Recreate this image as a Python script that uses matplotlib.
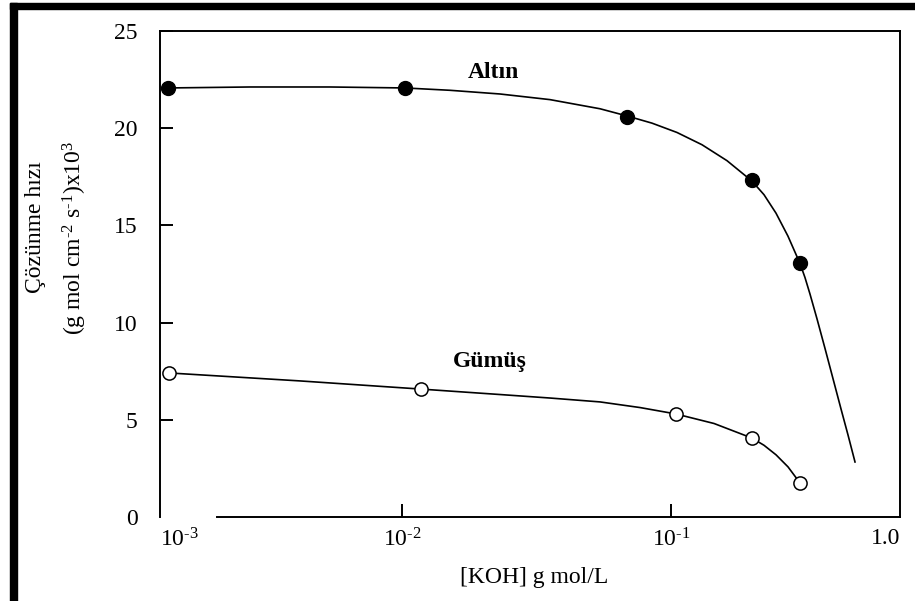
import matplotlib
matplotlib.use('Agg')
import matplotlib.pyplot as plt
from matplotlib.patches import Rectangle
from matplotlib.ticker import NullLocator

plt.rcParams['font.family'] = ['Liberation Serif', 'DejaVu Serif']
plt.rcParams['mathtext.fontset'] = 'custom'
plt.rcParams['mathtext.rm'] = 'Liberation Serif'

# measured points
altin_x = [0.00135, 0.0103, 0.0686, 0.200, 0.302]
altin_y = [22.07, 22.07, 20.58, 17.34, 13.07]
gumus_x = [0.00136, 0.0118, 0.104, 0.200, 0.302]
gumus_y = [7.41, 6.58, 5.30, 4.06, 1.75]

# fitted curves
altin_curve_x = [0.001349, 0.002721, 0.005398, 0.01026, 0.01508, 0.02313, 0.03549,
                 0.05446, 0.06863, 0.0850, 0.10527, 0.13036, 0.16148, 0.2000,
                 0.22167, 0.24566, 0.2721, 0.3017, 0.3148, 0.3286, 0.3490,
                 0.3737, 0.4001, 0.4285, 0.4550, 0.4831]
altin_curve_y = [22.07, 22.12, 22.12, 22.07, 21.95, 21.76, 21.47,
                 21.00, 20.63, 20.26, 19.78, 19.15, 18.33, 17.28,
                 16.58, 15.63, 14.45, 13.04, 12.32, 11.47, 10.19,
                 8.67, 7.12, 5.56, 4.22, 2.83]
gumus_curve_x = [0.001361, 0.004177, 0.011765, 0.02313, 0.03549, 0.05446, 0.07671,
                 0.10438, 0.14454, 0.2000, 0.22167, 0.24566, 0.2722, 0.3017]
gumus_curve_y = [7.41, 7.00, 6.58, 6.30, 6.12, 5.92, 5.63,
                 5.30, 4.81, 4.06, 3.69, 3.20, 2.58, 1.75]

x_lo, x_hi = 10 ** -2.8996, 10 ** -0.1487
x_ticks = [x_lo, 0.01, 0.1, x_hi]
x_ticklabels = [r'$\mathregular{10^{\text{-}3}}$', r'$\mathregular{10^{\text{-}2}}$',
                r'$\mathregular{10^{\text{-}1}}$', '1.0']
y_ticks = [0, 5, 10, 15, 20, 25]

fig = plt.figure(figsize=(9.15, 6.01), dpi=100)
ax = fig.add_axes([160 / 915, 1 - 517 / 601, 740 / 915, 486 / 601])

ax.plot(altin_curve_x, altin_curve_y, color='black', lw=1.2, zorder=2)
ax.plot(gumus_curve_x, gumus_curve_y, color='black', lw=1.2, zorder=2)
ax.plot(altin_x, altin_y, 'o', color='black', ms=10, zorder=3)
ax.plot(gumus_x, gumus_y, 'o', mfc='white', mec='black', mew=1.1, ms=9.5, zorder=3)

ax.set_xscale('log')
ax.set_xlim(x_lo, x_hi)
ax.set_ylim(0, 25)
ax.xaxis.set_minor_locator(NullLocator())
ax.set_xticks(x_ticks, x_ticklabels)
ax.set_yticks(y_ticks)

ax.tick_params(axis='both', direction='in', width=1.4, labelsize=17)
ax.tick_params(axis='y', length=9, pad=16)
ax.tick_params(axis='x', length=9.5, pad=8)

xt = ax.xaxis.get_major_ticks()
xt[0].tick1line.set_visible(False)
xt[-1].tick1line.set_visible(False)
labs = ax.get_xticklabels()
labs[0].set_ha('left')
labs[-1].set_ha('right')
ax.yaxis.get_major_ticks()[0].tick1line.set_visible(False)

for s in ax.spines.values():
    s.set_linewidth(1.4)
ax.spines['bottom'].set_bounds(10 ** -2.688, x_hi)

ax.set_xlabel('[KOH] g mol/L', fontsize=17)
ax.xaxis.set_label_coords(0.505, -0.102)

fig.text(35 / 915, 1 - 227 / 601, 'Çözünme hızı', rotation=90, fontsize=17,
         ha='center', va='center')
fig.text(75 / 915, 1 - 238 / 601,
         r'(g mol cm$\mathregular{^{\text{-}2}}$ s$\mathregular{^{\text{-}1}}$)x10$\mathregular{^{3}}$',
         rotation=90, fontsize=17, ha='center', va='center')

ax.text(0.45, 0.9156, 'Altın', transform=ax.transAxes, fontsize=17,
        fontweight='bold', ha='center', va='center')
ax.text(0.446, 0.319, 'Gümüş', transform=ax.transAxes, fontsize=17,
        fontweight='bold', ha='center', va='center')

# black frame bars on the left and top of the picture
fig.patches.append(Rectangle((10 / 915, 0), 7 / 915, 598 / 601, transform=fig.transFigure,
                             color='black', zorder=5))
fig.patches.append(Rectangle((10 / 915, 1 - 9 / 601), 905 / 915, 6 / 601,
                             transform=fig.transFigure, color='black', zorder=5))

fig.savefig('out.png', dpi=100)
